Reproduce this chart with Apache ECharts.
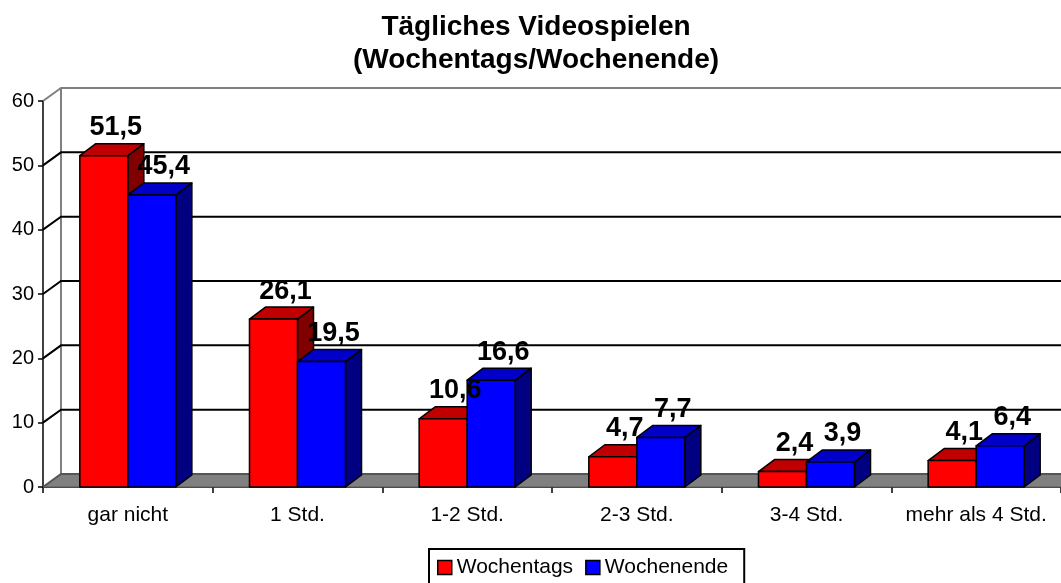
<!DOCTYPE html>
<html>
<head>
<meta charset="utf-8">
<script src="https://cdn.jsdelivr.net/npm/echarts@6/dist/echarts.min.js"></script>
<style>
html,body{margin:0;padding:0;background:#fff;}
#chart{width:1061px;height:583px;}
</style>
</head>
<body>
<div id="chart"></div>
<script>
const categories = ['gar nicht', '1 Std.', '1-2 Std.', '2-3 Std.', '3-4 Std.', 'mehr als 4 Std.'];
const wochentags = [51.5, 26.1, 10.6, 4.7, 2.4, 4.1];
const wochenende = [45.4, 19.5, 16.6, 7.7, 3.9, 6.4];
const yTicks = [0, 10, 20, 30, 40, 50, 60];
const seriesNames = ['Wochentags', 'Wochenende'];
const titleLines = ['Tägliches Videospielen', '(Wochentags/Wochenende)'];

const FONT = '"Liberation Sans", Arial, sans-serif';
const FRONT = ['#ff0000', '#0000ff'];
const TOP = ['#c00000', '#0000c8'];
const SIDE = ['#800000', '#000080'];
const WDX = 18, WDY = 13;   // wall depth
const BDX = 16, BDY = 12;   // bar depth
const BAR_FRAC = 0.283;

function renderWall(params, api) {
  const v = api.value(1);
  const cs = params.coordSys;
  const y = api.coord([0, v])[1];
  const x0 = cs.x, x1 = cs.x + cs.width;
  const children = [];
  if (v === 0) {
    children.push({
      type: 'polygon',
      shape: { points: [[x0, y], [x1, y], [x1 + WDX, y - WDY], [x0 + WDX, y - WDY]] },
      style: { fill: '#808080', stroke: '#5a5a5a', lineWidth: 1 }
    });
    children.push({
      type: 'line',
      shape: { x1: x0 + WDX, y1: y - WDY, x2: x0 + WDX, y2: api.coord([0, yTicks[yTicks.length - 1]])[1] - WDY },
      style: { stroke: '#808080', lineWidth: 2 }
    });
  }
  const isTop = v === yTicks[yTicks.length - 1];
  children.push({
    type: 'polyline',
    shape: { points: [[x0, y], [x0 + WDX, y - WDY], [x1 + WDX, y - WDY]] },
    style: { stroke: isTop ? '#808080' : (v === 0 ? '#555' : '#000'), lineWidth: 2, fill: null }
  });
  return { type: 'group', children };
}

function barGeom(api, si) {
  const c = api.coord([api.value(0), api.value(1)]);
  const base = api.coord([api.value(0), 0]);
  const band = api.size([1, 0])[0];
  const w = band * BAR_FRAC;
  const left = c[0] - w + si * w;
  return { c, base, w, left };
}

function makeBarRender(si) {
  return function (params, api) {
    const g = barGeom(api, si);
    const y = g.c[1], b = g.base[1], l = g.left, r = g.left + g.w;
    const st = { stroke: '#000', lineWidth: 1.5, lineJoin: 'round' };
    return {
      type: 'group',
      children: [
        { type: 'polygon', shape: { points: [[r, y], [r + BDX, y - BDY], [r + BDX, b - BDY], [r, b]] }, style: Object.assign({ fill: SIDE[si] }, st) },
        { type: 'polygon', shape: { points: [[l, y], [l + BDX, y - BDY], [r + BDX, y - BDY], [r, y]] }, style: Object.assign({ fill: TOP[si] }, st) },
        { type: 'rect', shape: { x: l, y: y, width: g.w, height: b - y }, style: Object.assign({ fill: FRONT[si] }, st) }
      ]
    };
  };
}

function makeLabelRender(si) {
  return function (params, api) {
    const g = barGeom(api, si);
    const v = api.value(1);
    return {
      type: 'text',
      x: g.left + g.w / 2 + BDX / 2 + 4,
      y: g.c[1] - 28,
      style: {
        text: String(v).replace('.', ','),
        font: 'bold 27px ' + FONT,
        fill: '#000',
        align: 'center',
        verticalAlign: 'middle'
      }
    };
  };
}

const seriesData = [wochentags, wochenende];
const series = [{
  type: 'custom',
  name: 'wall',
  silent: true,
  z: 1,
  renderItem: renderWall,
  encode: { x: 0, y: 1 },
  data: yTicks.map(v => [0, v])
}];
seriesData.forEach((arr, si) => {
  series.push({
    type: 'custom',
    name: seriesNames[si],
    z: 2 + si,
    itemStyle: { color: FRONT[si] },
    renderItem: makeBarRender(si),
    encode: { x: 0, y: 1 },
    data: arr.map((v, i) => [i, v])
  });
});
seriesData.forEach((arr, si) => {
  series.push({
    type: 'custom',
    name: seriesNames[si],
    z: 10,
    silent: true,
    itemStyle: { color: FRONT[si] },
    renderItem: makeLabelRender(si),
    encode: { x: 0, y: 1 },
    data: arr.map((v, i) => [i, v])
  });
});

const chart = echarts.init(document.getElementById('chart'), null, { renderer: 'canvas' });
chart.setOption({
  animation: false,
  backgroundColor: '#fff',
  textStyle: { fontFamily: FONT },
  graphic: [{
    type: 'text',
    x: 536,
    y: 44,
    style: {
      text: titleLines.join('\n'),
      font: 'bold 28px ' + FONT,
      lineHeight: 33,
      fill: '#000',
      align: 'center',
      verticalAlign: 'middle'
    }
  }],
  legend: {
    data: seriesNames.map((n, i) => ({ name: n, icon: 'rect', itemStyle: { color: FRONT[i], borderColor: '#000', borderWidth: 1.5 } })),
    left: 429,
    top: 549,
    padding: [8, 16, 10, 8],
    borderColor: '#000',
    borderWidth: 2,
    itemWidth: 14,
    itemHeight: 14,
    itemGap: 12,
    selectedMode: false,
    textStyle: { fontSize: 21, color: '#000', fontFamily: FONT }
  },
  grid: { left: 43, top: 101, width: 1020, height: 386, containLabel: false },
  xAxis: {
    type: 'category',
    data: categories,
    boundaryGap: true,
    axisLine: { show: true, lineStyle: { color: '#000', width: 1.5 } },
    axisTick: { show: true, length: 6, lineStyle: { color: '#000', width: 1.5 } },
    axisLabel: { fontSize: 21, color: '#000', margin: 18, fontFamily: FONT, interval: 0 },
    splitLine: { show: false }
  },
  yAxis: {
    type: 'value',
    min: 0,
    max: 60,
    interval: 10,
    axisLine: { show: true, lineStyle: { color: '#000', width: 1.5 } },
    axisTick: { show: true, length: 5, lineStyle: { color: '#000', width: 1.5 } },
    axisLabel: { fontSize: 20, color: '#000', margin: 9, fontFamily: FONT },
    splitLine: { show: false }
  },
  series: series
});
</script>
</body>
</html>
